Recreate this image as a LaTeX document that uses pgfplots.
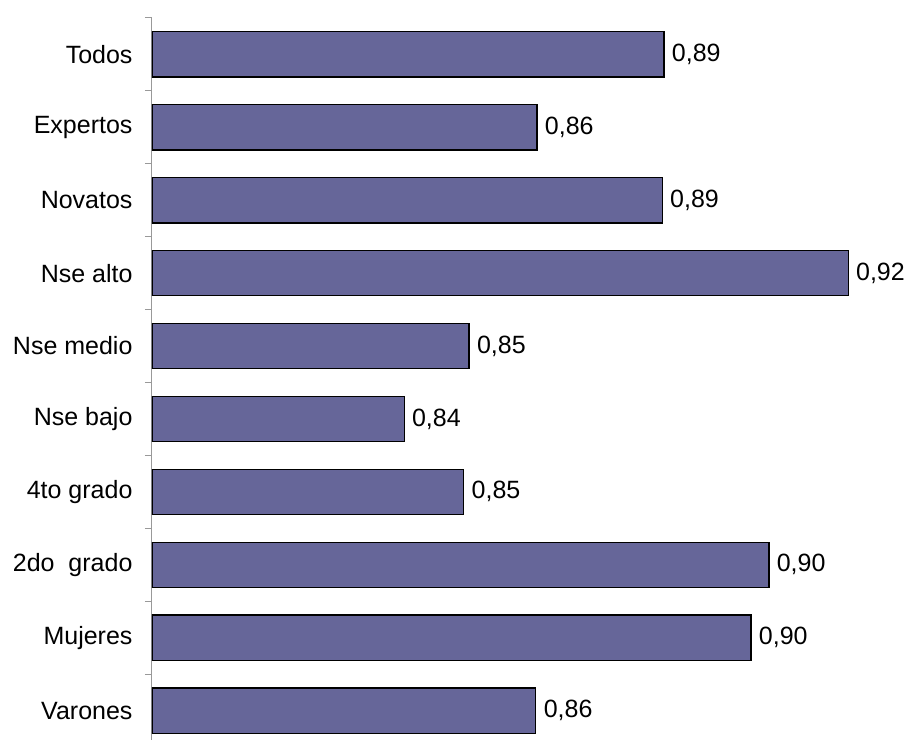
\documentclass[border=0pt]{standalone}
\usepackage{pgfplots}
\pgfplotsset{compat=1.18}
\usepackage{pgfplotstable}
\usepackage{fontspec}
\setmainfont{Liberation Sans}
\definecolor{barfill}{HTML}{666699}
\pgfplotstableread{
val pos lab
0.8859 0 0,89
0.8646 1 0,86
0.8856 2 0,89
0.9168 3 0,92
0.8532 4 0,85
0.8423 5 0,84
0.8523 6 0,85
0.9035 7 0,90
0.9005 8 0,90
0.8644 9 0,86
}\data
\begin{document}
\begin{tikzpicture}
\useasboundingbox (-152pt,0pt) rectangle (754pt,740pt);
\begin{axis}[
  at={(0pt,0pt)}, anchor=south west,
  scale only axis, width=754pt, height=722pt,
  xmin=0.8, xmax=0.9265,
  ymin=-0.5, ymax=9.404,
  y dir=reverse,
  axis x line=none,
  axis y line*=left,
  y axis line style={draw=gray!80, line width=1pt, -},
  ytick={0,...,9},
  yticklabels={Todos,Expertos,Novatos,Nse alto,Nse medio,Nse bajo,4to grado,2do\ \ grado,Mujeres,Varones},
  major tick length=0pt,
  minor ytick={-0.5,0.5,...,8.5},
  minor tick length=7pt,
  tick align=outside,
  minor tick style={draw=gray!80, line width=1pt},
  yticklabel style={font=\fontsize{25}{30}\selectfont, xshift=-16pt},
  xbar, bar width=45.3pt,
  nodes near coords,
  point meta=explicit symbolic,
  nodes near coords style={font=\fontsize{25}{30}\selectfont, anchor=west, xshift=4pt},
]
\addplot[fill=barfill, draw=black, line width=1.2pt] table[x=val, y=pos, meta=lab] {\data};
\end{axis}
\end{tikzpicture}
\end{document}
